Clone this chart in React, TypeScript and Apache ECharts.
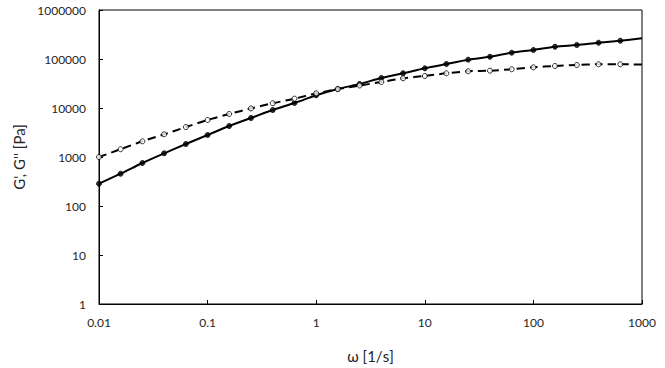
import React, { useEffect, useRef } from "react";
import * as echarts from "echarts";

const omega = [0.01, 0.0158, 0.0251, 0.0398, 0.0631, 0.1, 0.158, 0.251, 0.398, 0.631, 1, 1.58, 2.51, 3.98, 6.31, 10, 15.8, 25.1, 39.8, 63.1, 100, 158, 251, 398, 631];
const gStorage = [285, 456, 755, 1190, 1840, 2810, 4290, 6250, 9100, 12650, 18200, 24400, 30900, 40900, 51100, 64600, 79100, 96800, 111000, 134500, 152700, 178000, 193000, 215000, 236000];
const gLoss = [1000, 1440, 2090, 2900, 4080, 5690, 7550, 9800, 12500, 15500, 19900, 24300, 28800, 33900, 40400, 45000, 51100, 56100, 57700, 61700, 67600, 72000, 75500, 78000, 78000];
const fitEndOmega = 1000;
const gStorageFitEnd = 264000;
const gLossFitEnd = 77000;

const xTitle = "ω [1/s]";
const yTitle = "G', G'' [Pa]";
const FONT = "Lato";

function fmt(v: number): string {
  const e = Math.round(Math.log10(v));
  return e < 0 ? v.toFixed(-e) : String(Math.round(v));
}

export default function App() {
  const ref = useRef<HTMLDivElement>(null);
  useEffect(() => {
    if (!ref.current) return;
    const chart = echarts.init(ref.current, undefined, { renderer: "svg" });
    const pts = (ys: number[]) => omega.map((x, i) => [x, ys[i]]);
    chart.setOption({
      animation: false,
      backgroundColor: "#ffffff",
      grid: {
        left: 99,
        right: 23,
        top: 10,
        bottom: 64,
        show: true,
        borderColor: "#000",
        borderWidth: 1,
        backgroundColor: "transparent",
      },
      xAxis: {
        type: "log",
        logBase: 10,
        min: 0.01,
        max: 1000,
        name: xTitle,
        nameLocation: "middle",
        nameGap: 44,
        nameTextStyle: { fontFamily: FONT, fontSize: 15, color: "#262626" },
        axisLine: { show: true, lineStyle: { color: "#000", width: 1 } },
        axisTick: { show: true, inside: true, length: 4, lineStyle: { color: "#000" } },
        minorTick: { show: false },
        splitLine: { show: false },
        axisLabel: {
          fontFamily: FONT,
          fontSize: 12,
          color: "#262626",
          margin: 12,
          formatter: (v: number) => fmt(v),
        },
      },
      yAxis: {
        type: "log",
        logBase: 10,
        min: 1,
        max: 1000000,
        name: yTitle,
        nameLocation: "middle",
        nameGap: 63,
        nameRotate: 90,
        nameTextStyle: { fontFamily: FONT, fontSize: 15, color: "#262626" },
        axisLine: { show: true, lineStyle: { color: "#000", width: 1 } },
        axisTick: { show: true, inside: true, length: 4, lineStyle: { color: "#000" } },
        splitLine: { show: false },
        axisLabel: {
          fontFamily: FONT,
          fontSize: 12,
          color: "#262626",
          margin: 13,
          formatter: (v: number) => fmt(v),
        },
      },
      series: [
        {
          type: "line",
          name: "G' fit",
          data: [...pts(gStorage), [fitEndOmega, gStorageFitEnd]],
          smooth: 0.3,
          showSymbol: false,
          symbol: "none",
          lineStyle: { color: "#000", width: 2 },
          z: 2,
        },
        {
          type: "line",
          name: "G'' fit",
          data: [...pts(gLoss), [fitEndOmega, gLossFitEnd]],
          smooth: 0.3,
          showSymbol: false,
          symbol: "none",
          lineStyle: { color: "#000", width: 2, type: [8, 5] },
          z: 2,
        },
        {
          type: "scatter",
          name: "G'",
          data: pts(gStorage),
          symbol: "circle",
          symbolSize: 5,
          itemStyle: { color: "#000", borderColor: "#000", borderWidth: 1 },
          z: 3,
        },
        {
          type: "scatter",
          name: "G''",
          data: pts(gLoss),
          symbol: "circle",
          symbolSize: 5,
          itemStyle: { color: "#fff", borderColor: "#000", borderWidth: 1 },
          z: 4,
        },
      ],
    });
    return () => chart.dispose();
  }, []);
  return (
    <div
      ref={ref}
      style={{ position: "absolute", left: 0, top: 0, width: 665, height: 368 }}
    />
  );
}
